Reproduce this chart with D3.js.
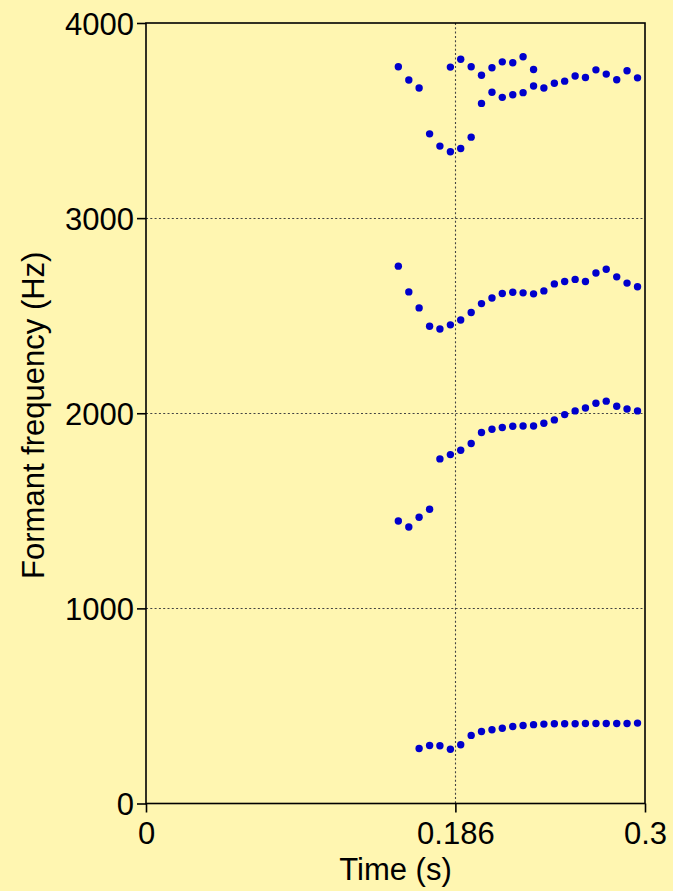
<!DOCTYPE html>
<html>
<head>
<meta charset="utf-8">
<script src="https://cdn.jsdelivr.net/npm/d3@7"></script>
<style>
  html, body { margin: 0; padding: 0; background: #fff6b1; }
  svg { display: block; }
  text { font-family: "Liberation Sans", Arial, sans-serif; fill: #000; }
</style>
</head>
<body>
<svg id="chart" width="673" height="891"></svg>
<script>
// ---- data ----
const times = [0.1517, 0.1580, 0.1642, 0.1705, 0.1767, 0.1830, 0.1892, 0.1955,
               0.2017, 0.2080, 0.2142, 0.2205, 0.2267, 0.2330, 0.2392, 0.2455,
               0.2517, 0.2580, 0.2642, 0.2705, 0.2767, 0.2830, 0.2892, 0.2955];
const F1 = [null, null, 282, 297, 296, 278, 301, 349, 369, 378, 386, 395,
            400, 404, 407, 409, 409, 409, 410, 410, 410, 410, 410, 412];
const F2 = [1448, 1417, 1467, 1508, 1766, 1788, 1810, 1845, 1901, 1918, 1927, 1933,
            1935, 1935, 1949, 1966, 1993, 2012, 2027, 2051, 2062, 2036, 2022, 2012];
const F3 = [2754, 2622, 2540, 2446, 2432, 2453, 2478, 2516, 2562, 2591, 2614, 2620,
            2617, 2612, 2627, 2663, 2675, 2686, 2675, 2719, 2738, 2699, 2667, 2648];
const F4 = [3776, 3708, 3667, 3432, 3369, 3340, 3357, 3415, 3588, 3645, 3619, 3632,
            3643, 3677, 3667, 3691, 3702, 3728, 3721, 3760, 3738, 3709, 3755, 3719];
const F5 = [null, null, null, null, null, 3774, 3814, 3776, 3732, 3771, 3801, 3796,
            3827, 3762, null, null, null, null, null, null, null, null, null, null];
const xTicks = [0, 0.186, 0.3];
const xTickLabels = ["0", "0.186", "0.3"];
const yTicks = [0, 1000, 2000, 3000, 4000];
const yTickLabels = ["0", "1000", "2000", "3000", "4000"];
const xGrid = [0.186];
const yGrid = [1000, 2000, 3000];

// ---- layout ----
const svg = d3.select("#chart");
const pL = 146, pR = 645, pT = 23, pB = 803.5;
const x = d3.scaleLinear().domain([0, 0.3]).range([pL, pR]);
const y = d3.scaleLinear().domain([0, 4000]).range([pB, pT]);
const FS = 31;

// grid
const grid = svg.append("g").attr("stroke", "#444").attr("stroke-width", 1.1)
  .attr("stroke-dasharray", "2,2.3");
grid.selectAll("line.h").data(yGrid).enter().append("line")
  .attr("x1", pL).attr("x2", pR)
  .attr("y1", d => Math.round(y(d)) + 0.5).attr("y2", d => Math.round(y(d)) + 0.5);
grid.selectAll("line.v").data(xGrid).enter().append("line")
  .attr("y1", pT).attr("y2", pB)
  .attr("x1", d => Math.round(x(d)) + 0.5).attr("x2", d => Math.round(x(d)) + 0.5);

// points
const series = [F1, F2, F3, F4, F5];
const pts = [];
series.forEach(s => s.forEach((v, i) => { if (v != null) pts.push([times[i], v]); }));
svg.append("g").selectAll("circle").data(pts).enter().append("circle")
  .attr("cx", d => x(d[0])).attr("cy", d => y(d[1])).attr("r", 3.7)
  .attr("fill", "#0000cc");

// frame
svg.append("rect").attr("x", pL).attr("y", pT)
  .attr("width", pR - pL).attr("height", pB - pT)
  .attr("fill", "none").attr("stroke", "#000").attr("stroke-width", 1.6);

// y axis
const yAxis = svg.append("g").attr("transform", `translate(${pL},0)`)
  .call(d3.axisLeft(y).tickValues(yTicks).tickFormat((d, i) => yTickLabels[i])
    .tickSize(9).tickPadding(3));
yAxis.select(".domain").remove();
yAxis.selectAll("line").attr("stroke", "#000").attr("stroke-width", 1.6);
yAxis.selectAll("text").attr("font-size", FS)
  .attr("font-family", "'Liberation Sans', Arial, sans-serif").attr("dy", "0.36em");

// x axis
const xAxis = svg.append("g").attr("transform", `translate(0,${pB})`)
  .call(d3.axisBottom(x).tickValues(xTicks).tickFormat((d, i) => xTickLabels[i])
    .tickSize(9).tickPadding(9));
xAxis.select(".domain").remove();
xAxis.selectAll("line").attr("stroke", "#000").attr("stroke-width", 1.6);
xAxis.selectAll("text").attr("font-size", FS)
  .attr("font-family", "'Liberation Sans', Arial, sans-serif");

// axis titles
svg.append("text").attr("x", (pL + pR) / 2).attr("y", 880)
  .attr("text-anchor", "middle").attr("font-size", FS).text("Time (s)");
svg.append("text").attr("transform", `translate(44,${(pT + pB) / 2 + 2}) rotate(-90)`)
  .attr("text-anchor", "middle").attr("font-size", FS).text("Formant frequency (Hz)");
</script>
</body>
</html>
